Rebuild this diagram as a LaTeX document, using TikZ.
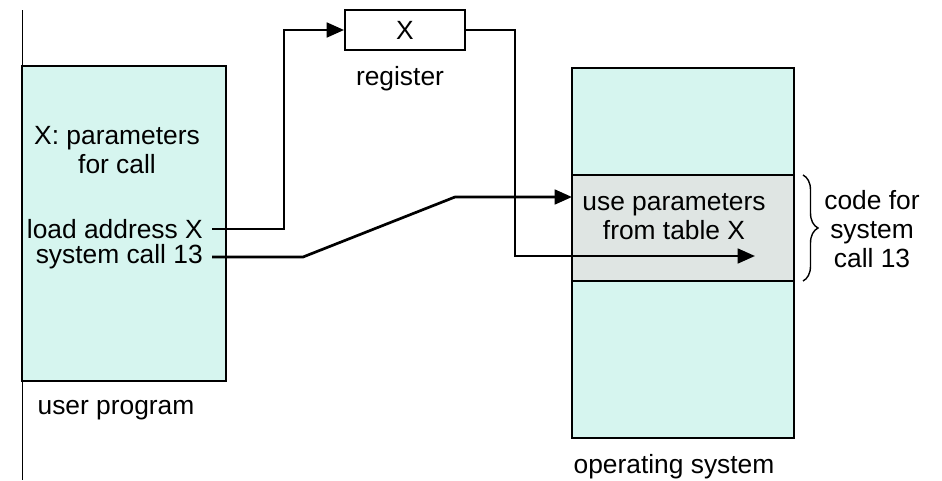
\documentclass[tikz,border=0pt]{standalone}
\usepackage{fontspec}
\setmainfont{Liberation Sans}
\usetikzlibrary{arrows.meta,positioning,decorations.pathreplacing}
\definecolor{memcyan}{RGB}{214,245,239}
\definecolor{memgray}{RGB}{223,229,227}

\begin{document}
\begin{tikzpicture}[font=\fontsize{22.5}{25}\selectfont,
  mem/.style={draw=black,line width=1.6pt,fill=memcyan,outer sep=0pt,inner sep=0pt},
  conn/.style={line width=2.3pt,-{Triangle[length=5.2mm,width=4.4mm]}},
  txt/.style={inner sep=0pt,align=center}]
\useasboundingbox (0,0) rectangle (28.26,-14.4);
\draw[line width=0.8pt] (0.66,-0.3) -- (0.66,-14.4);

% user side
\node[mem,minimum width=6.12cm,minimum height=9.45cm] (user) at (3.72,-6.705) {};
\node[txt] (param) at (3.51,-4.5) {X: parameters\\for call};
\node[anchor=east,inner sep=0.27cm] (ld) at (6.36,-6.87) {load address X};
\node[anchor=east,inner sep=0.27cm] (sc) at (6.36,-7.71) {system call 13};
\node[txt] (userlbl) at (3.48,-12.3) {user program};

% register
\node[draw=black,line width=1.6pt,minimum width=3.6cm,minimum height=1.2cm,inner sep=0pt] (reg) at (12.15,-0.9) {X};
\node[txt] (reglbl) at (12.0,-2.37) {register};

% operating system memory
\node[mem,minimum width=6.66cm,minimum height=3.21cm] (ostop) at (20.49,-3.645) {};
\node[mem,fill=memgray,minimum width=6.66cm,minimum height=3.18cm,below=0pt of ostop] (code) {};
\node[mem,minimum width=6.66cm,minimum height=4.71cm,below=0pt of code] (osbot) {};
\node[txt] (codetxt) at (20.22,-6.5) {use parameters\\from table X};
\node[txt] (oslbl) at (20.22,-14.01) {operating system};
\coordinate (tip) at (22.65,-7.68);

\draw[decorate,decoration={brace,amplitude=0.45cm},line width=1.2pt] ([xshift=0.27cm]code.north east) -- ([xshift=0.27cm]code.south east);
\node[txt] (codelbl) at (26.16,-6.87) {code for\\system\\call 13};

% connectors
\draw[conn] (ld.east) -- ++(2.16,0) |- (reg.west);
\draw[conn] (reg.east) -- ++(1.47,0) |- (tip);
\draw[conn] (sc.east) -- ++(2.73,0) -- ++(4.56,1.8) -- (code.west |- 0,-5.91);
\end{tikzpicture}
\end{document}
